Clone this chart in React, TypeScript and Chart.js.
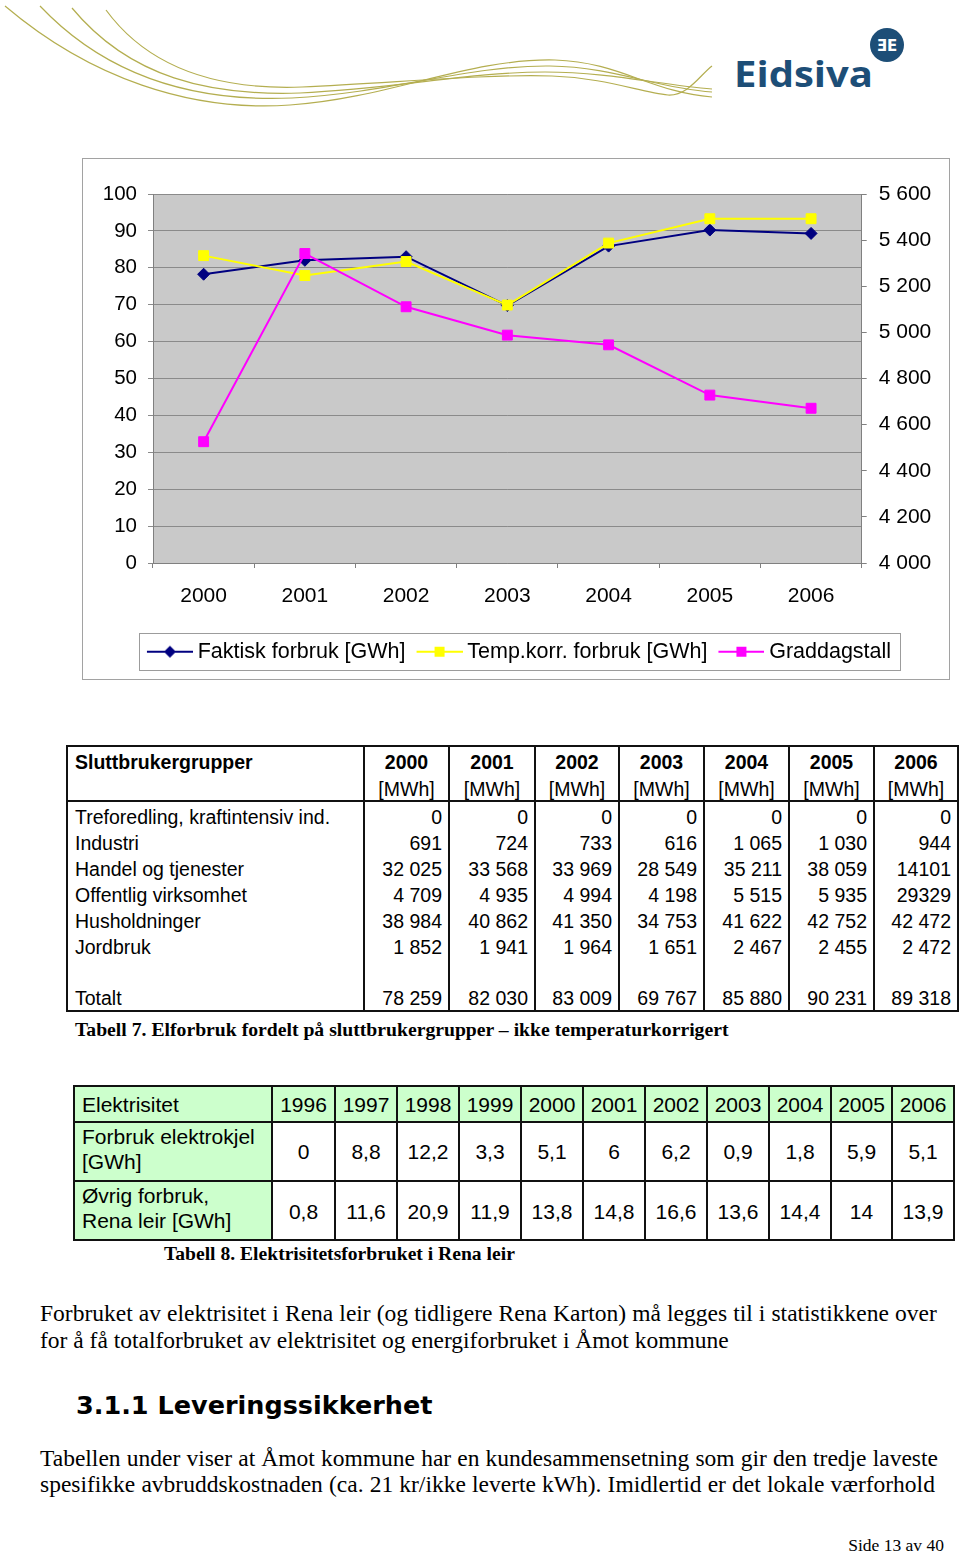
import React, { useEffect, useRef } from 'react';
import { Chart, registerables } from 'chart.js';

Chart.register(...registerables);

// ---------------- Chart data ----------------
const years = ['2000', '2001', '2002', '2003', '2004', '2005', '2006'];
const faktiskForbruk = [78.259, 82.03, 83.009, 69.767, 85.88, 90.231, 89.318];
const tempKorrForbruk = [83.3, 77.9, 81.7, 69.9, 86.7, 93.3, 93.3];
const graddagstall = [4526, 5342, 5111, 4988, 4946, 4728, 4671];
const seriesNames = ['Faktisk forbruk [GWh]', 'Temp.korr. forbruk [GWh]', 'Graddagstall'];
const leftAxisRange = [0, 100, 10];
const rightAxisRange = [4000, 5600, 200];

// ---------------- Table 7 ----------------
const t7Title = 'Sluttbrukergrupper';
const t7Years = ['2000', '2001', '2002', '2003', '2004', '2005', '2006'];
const t7Unit = '[MWh]';
const t7Groups = ['Treforedling, kraftintensiv ind.', 'Industri', 'Handel og tjenester', 'Offentlig virksomhet', 'Husholdninger', 'Jordbruk'];
const t7Col2000 = ['0', '691', '32 025', '4 709', '38 984', '1 852'];
const t7Col2001 = ['0', '724', '33 568', '4 935', '40 862', '1 941'];
const t7Col2002 = ['0', '733', '33 969', '4 994', '41 350', '1 964'];
const t7Col2003 = ['0', '616', '28 549', '4 198', '34 753', '1 651'];
const t7Col2004 = ['0', '1 065', '35 211', '5 515', '41 622', '2 467'];
const t7Col2005 = ['0', '1 030', '38 059', '5 935', '42 752', '2 455'];
const t7Col2006 = ['0', '944', '14101', '29329', '42 472', '2 472'];
const t7TotalLabel = 'Totalt';
const t7Totals = ['78 259', '82 030', '83 009', '69 767', '85 880', '90 231', '89 318'];
const t7Caption = 'Tabell 7. Elforbruk fordelt på sluttbrukergrupper – ikke temperaturkorrigert';

// ---------------- Table 8 ----------------
const t8Header = 'Elektrisitet';
const t8Years = ['1996', '1997', '1998', '1999', '2000', '2001', '2002', '2003', '2004', '2005', '2006'];
const t8Row1Label = ['Forbruk elektrokjel', '[GWh]'];
const t8Row2Label = ['Øvrig forbruk,', 'Rena leir [GWh]'];
const t8Elektrokjel = ['0', '8,8', '12,2', '3,3', '5,1', '6', '6,2', '0,9', '1,8', '5,9', '5,1'];
const t8Ovrig = ['0,8', '11,6', '20,9', '11,9', '13,8', '14,8', '16,6', '13,6', '14,4', '14', '13,9'];
const t8Caption = 'Tabell 8. Elektrisitetsforbruket i Rena leir';

// ---------------- Body text ----------------
const para1 = [
  'Forbruket av elektrisitet i Rena leir (og tidligere Rena Karton) må legges til i statistikkene over',
  'for å få totalforbruket av elektrisitet og energiforbruket i Åmot kommune',
];
const heading = '3.1.1 Leveringssikkerhet';
const para2 = [
  'Tabellen under viser at Åmot kommune har en kundesammensetning som gir den tredje laveste',
  'spesifikke avbruddskostnaden (ca. 21 kr/ikke leverte kWh). Imidlertid er det lokale værforhold',
];
const footer = 'Side 13 av 40';
const logoText = 'Eidsiva';

const sans = '"Liberation Sans", Arial, Helvetica, sans-serif';
const serif = '"Liberation Serif", "Times New Roman", serif';
const LINE = '#111';

function fmtThousands(v: number): string {
  const th = Math.floor(v / 1000);
  const rest = Math.round(v % 1000);
  return th > 0 ? th + ' ' + String(rest).padStart(3, '0') : String(rest);
}

type TxtProps = {
  x: number; y: number; size: number; children: React.ReactNode;
  font?: string; bold?: boolean; align?: 'left' | 'right' | 'center'; color?: string;
};
function Txt({ x, y, size, children, font = sans, bold = false, align = 'left', color = '#000' }: TxtProps) {
  const lh = Math.round(size * 1.3);
  const style: React.CSSProperties = {
    position: 'absolute', top: y - lh / 2, fontFamily: font, fontSize: size, lineHeight: lh + 'px',
    fontWeight: bold ? 700 : 400, color, whiteSpace: 'pre',
  };
  if (align === 'left') style.left = x;
  else if (align === 'right') style.right = 960 - x;
  else { style.left = x - 300; style.width = 600; style.textAlign = 'center'; }
  return <div style={style}>{children}</div>;
}

function JLine({ x, y, w, text, size }: { x: number; y: number; w: number; text: string; size: number }) {
  const lh = Math.round(size * 1.3);
  return (
    <div style={{
      position: 'absolute', left: x, top: y - lh / 2, width: w, height: lh, display: 'flex',
      justifyContent: 'space-between', fontFamily: serif, fontSize: size, lineHeight: lh + 'px', whiteSpace: 'nowrap',
    }}>
      {text.split(' ').map((wd, i) => <span key={i}>{wd}</span>)}
    </div>
  );
}

function HLine({ x1, x2, y, w = 2 }: { x1: number; x2: number; y: number; w?: number }) {
  return <div style={{ position: 'absolute', left: x1 - w / 2, top: y - w / 2, width: x2 - x1 + w, height: w, background: LINE }} />;
}
function VLine({ x, y1, y2, w = 2 }: { x: number; y1: number; y2: number; w?: number }) {
  return <div style={{ position: 'absolute', left: x - w / 2, top: y1 - w / 2, width: w, height: y2 - y1 + w, background: LINE }} />;
}

function legendImage(color: string, shape: 'diamond' | 'square'): HTMLCanvasElement {
  const c = document.createElement('canvas');
  c.width = 58; c.height = 16;
  const g = c.getContext('2d')!;
  g.strokeStyle = color; g.lineWidth = 2;
  g.beginPath(); g.moveTo(12, 8); g.lineTo(58, 8); g.stroke();
  g.fillStyle = color;
  if (shape === 'diamond') {
    g.beginPath(); g.moveTo(35, 2); g.lineTo(41, 8); g.lineTo(35, 14); g.lineTo(29, 8); g.closePath(); g.fill();
  } else {
    g.fillRect(30, 3, 10, 10);
  }
  return c;
}

function ChartBlock() {
  const ref = useRef<HTMLCanvasElement>(null);
  useEffect(() => {
    const canvas = ref.current;
    if (!canvas) return;
    const imgs = [legendImage('#000080', 'diamond'), legendImage('#ffff00', 'square'), legendImage('#ff00ff', 'square')];
    const plotBg = {
      id: 'plotBg',
      beforeDraw(chart: any) {
        const { ctx, chartArea: a } = chart;
        ctx.save();
        ctx.fillStyle = '#c9c9c9';
        ctx.fillRect(a.left, a.top, a.right - a.left, a.bottom - a.top);
        ctx.restore();
      },
    };
    const legendBox = {
      id: 'legendBox',
      afterDraw(chart: any) {
        const hb = chart.legend && chart.legend.legendHitBoxes;
        if (!hb || !hb.length) return;
        const first = hb[0];
        const last = hb[hb.length - 1];
        const cy = first.top + first.height / 2;
        const l = Math.round(first.left - 2) + 0.5;
        const r = Math.round(last.left + last.width + 9) + 0.5;
        const t = Math.round(cy - 19) + 0.5;
        const b = Math.round(cy + 18) + 0.5;
        const ctx = chart.ctx;
        ctx.save();
        ctx.strokeStyle = '#9c9c9c';
        ctx.lineWidth = 1;
        ctx.strokeRect(l, t, r - l, b - t);
        ctx.restore();
      },
    };
    const tickFont = (size: number) => ({ family: sans, size });
    const chart = new Chart(canvas, {
      type: 'line',
      data: {
        labels: years,
        datasets: [
          {
            label: seriesNames[0], data: faktiskForbruk, yAxisID: 'y', borderColor: '#000080', backgroundColor: '#000080',
            borderWidth: 2, pointStyle: 'rectRot', pointRadius: 6, pointBorderWidth: 1, pointBorderColor: '#000080',
            pointBackgroundColor: '#000080', tension: 0, order: 3,
          },
          {
            label: seriesNames[1], data: tempKorrForbruk, yAxisID: 'y', borderColor: '#ffff00', backgroundColor: '#ffff00',
            borderWidth: 2, pointStyle: 'rect', pointRadius: 7, pointBorderWidth: 1, pointBorderColor: '#ffff00',
            pointBackgroundColor: '#ffff00', tension: 0, order: 2,
          },
          {
            label: seriesNames[2], data: graddagstall, yAxisID: 'y1', borderColor: '#ff00ff', backgroundColor: '#ff00ff',
            borderWidth: 2, pointStyle: 'rect', pointRadius: 7, pointBorderWidth: 1, pointBorderColor: '#ff00ff',
            pointBackgroundColor: '#ff00ff', tension: 0, order: 1,
          },
        ],
      },
      options: {
        responsive: false,
        animation: false,
        devicePixelRatio: 1,
        layout: { padding: { left: 0, right: 0, top: 35, bottom: 6.5 } },
        scales: {
          x: {
            type: 'category', offset: true,
            grid: { display: true, drawOnChartArea: false, drawTicks: true, tickLength: 5, color: '#808080', offset: true },
            border: { display: true, color: '#808080', width: 1 },
            ticks: { color: '#000', font: tickFont(21), padding: 16, maxRotation: 0, autoSkip: false },
            afterFit: (s: any) => { s.height = 73; },
          },
          y: {
            position: 'left', min: leftAxisRange[0], max: leftAxisRange[1],
            ticks: { stepSize: leftAxisRange[2], color: '#000', font: tickFont(20.5), padding: 11 },
            grid: { color: '#8a8a8a', tickLength: 5, drawTicks: true },
            border: { display: true, color: '#808080', width: 1 },
            afterFit: (s: any) => { s.width = 70; },
          },
          y1: {
            position: 'right', min: rightAxisRange[0], max: rightAxisRange[1],
            ticks: { stepSize: rightAxisRange[2], color: '#000', font: tickFont(21), padding: 12, callback: (v: any) => fmtThousands(Number(v)) },
            grid: { drawOnChartArea: false, tickLength: 5, drawTicks: true, color: '#808080' },
            border: { display: true, color: '#808080', width: 1 },
            afterFit: (s: any) => { s.width = 87.3; },
          },
        },
        plugins: {
          legend: {
            position: 'bottom',
            labels: {
              usePointStyle: true, pointStyleWidth: 46, padding: 5, color: '#000',
              font: { family: sans, size: 21.5 },
              sort: (a: any, b: any) => a.datasetIndex - b.datasetIndex,
              generateLabels: (ch: any) => {
                const items = (Chart.defaults.plugins.legend.labels as any).generateLabels(ch);
                items.forEach((it: any) => { it.pointStyle = imgs[it.datasetIndex]; });
                return items;
              },
            },
          },
          tooltip: { enabled: false },
        },
      } as any,
      plugins: [plotBg, legendBox],
    });
    return () => { chart.destroy(); };
  }, []);
  return (
    <>
      <canvas ref={ref} width={866} height={520} style={{ position: 'absolute', left: 83, top: 159, width: 866, height: 520 }} />
      <div style={{ position: 'absolute', left: 82, top: 158, width: 868, height: 522, border: '1px solid #a2a2a2', boxSizing: 'border-box' }} />
    </>
  );
}

function Table7() {
  const left = 67, top = 746, headerH = 55;
  const rowHs = [29, 26, 26, 26, 26, 26, 25, 26];
  const colW = [297, 85, 86, 84, 85, 85, 85, 84];
  const xs = [left];
  colW.forEach((w) => xs.push(xs[xs.length - 1] + w));
  const rowTops = [top + headerH];
  rowHs.forEach((h) => rowTops.push(rowTops[rowTops.length - 1] + h));
  const bottom = rowTops[rowTops.length - 1];
  const cols = [t7Col2000, t7Col2001, t7Col2002, t7Col2003, t7Col2004, t7Col2005, t7Col2006];
  const labels = [...t7Groups, '', t7TotalLabel];
  const size = 19.5;
  const els: React.ReactNode[] = [];
  els.push(<Txt key="h0" x={xs[0] + 8} y={762} size={size} bold>{t7Title}</Txt>);
  t7Years.forEach((yr, i) => {
    const cx = (xs[i + 1] + xs[i + 2]) / 2;
    els.push(<Txt key={'hy' + i} x={cx} y={762} size={size} bold align="center">{yr}</Txt>);
    els.push(<Txt key={'hu' + i} x={cx} y={789} size={size} align="center">{t7Unit}</Txt>);
  });
  labels.forEach((lab, r) => {
    const cy = rowTops[r] + rowHs[r] - 13;
    if (lab) els.push(<Txt key={'l' + r} x={xs[0] + 8} y={cy} size={size}>{lab}</Txt>);
    cols.forEach((col, c) => {
      let v = '';
      if (r < t7Groups.length) v = col[r];
      else if (r === labels.length - 1) v = t7Totals[c];
      if (v) els.push(<Txt key={'v' + r + '_' + c} x={xs[c + 2] - 7} y={cy} size={size} align="right">{v}</Txt>);
    });
  });
  return (
    <>
      {els}
      <HLine x1={xs[0]} x2={xs[xs.length - 1]} y={top} />
      <HLine x1={xs[0]} x2={xs[xs.length - 1]} y={top + headerH} />
      <HLine x1={xs[0]} x2={xs[xs.length - 1]} y={bottom} />
      {xs.map((x, i) => <VLine key={'vl' + i} x={x} y1={top} y2={bottom} />)}
      <Txt x={75} y={1029} size={19.7} font={serif} bold>{t7Caption}</Txt>
    </>
  );
}

function Table8() {
  const left = 74;
  const ys = [1086, 1122, 1181, 1240];
  const colW = [198, 63, 62, 62, 62, 62, 62, 62, 62, 62, 61, 62];
  const xs = [left];
  colW.forEach((w) => xs.push(xs[xs.length - 1] + w));
  const right = xs[xs.length - 1];
  const size = 21;
  const green = '#ccffcc';
  const els: React.ReactNode[] = [];
  els.push(<div key="g1" style={{ position: 'absolute', left: xs[0], top: ys[0], width: right - xs[0], height: ys[1] - ys[0], background: green }} />);
  els.push(<div key="g2" style={{ position: 'absolute', left: xs[0], top: ys[1], width: xs[1] - xs[0], height: ys[3] - ys[1], background: green }} />);
  els.push(<Txt key="h" x={xs[0] + 8} y={1104} size={size}>{t8Header}</Txt>);
  t8Years.forEach((yr, i) => {
    const cx = (xs[i + 1] + xs[i + 2]) / 2;
    els.push(<Txt key={'y' + i} x={cx} y={1104} size={size} align="center">{yr}</Txt>);
    els.push(<Txt key={'a' + i} x={cx} y={1151} size={size} align="center">{t8Elektrokjel[i]}</Txt>);
    els.push(<Txt key={'b' + i} x={cx} y={1211} size={size} align="center">{t8Ovrig[i]}</Txt>);
  });
  els.push(<Txt key="r1a" x={xs[0] + 8} y={1136} size={size}>{t8Row1Label[0]}</Txt>);
  els.push(<Txt key="r1b" x={xs[0] + 8} y={1161} size={size}>{t8Row1Label[1]}</Txt>);
  els.push(<Txt key="r2a" x={xs[0] + 8} y={1195} size={size}>{t8Row2Label[0]}</Txt>);
  els.push(<Txt key="r2b" x={xs[0] + 8} y={1220} size={size}>{t8Row2Label[1]}</Txt>);
  return (
    <>
      {els}
      {ys.map((y, i) => <HLine key={'h' + i} x1={xs[0]} x2={right} y={y} />)}
      {xs.map((x, i) => <VLine key={'v' + i} x={x} y1={ys[0]} y2={ys[3]} />)}
      <Txt x={164} y={1253} size={19.6} font={serif} bold>{t8Caption}</Txt>
    </>
  );
}

function Logo() {
  return (
    <svg style={{ position: 'absolute', left: 0, top: 0 }} width={960} height={130}>
      <g fill="none" stroke="#b4ae50" strokeWidth={1.2}>
        <path d="M5,6 C90,78 190,112 290,105 C390,98 470,58 555,60 C620,62 650,92 712,97" />
        <path d="M40,6 C110,80 200,102 292,98 C390,93 470,65 550,66 C615,67 655,88 712,92" />
        <path d="M72,8 C130,78 210,96 300,93 C395,89 470,72 545,72 C610,72 660,85 712,89" />
        <path d="M106,10 C150,70 220,90 302,87 C395,83 480,74 552,76 C605,78 640,92 668,95 C688,96 700,75 712,66" />
      </g>
      <circle cx={887} cy={45} r={17} fill="#1d4e77" />
      <text x={887} y={51} textAnchor="middle" fill="#fff" fontFamily="DejaVu Sans" fontWeight="bold" fontSize={15}>ƎE</text>
      <text x={734} y={87} fill="#1d4e77" fontFamily='"Open Sans", Lato, sans-serif' fontWeight="bold" fontSize={35}
        textLength={139} lengthAdjust="spacingAndGlyphs">{logoText}</text>
    </svg>
  );
}

export default function App() {
  return (
    <div style={{ position: 'absolute', left: 0, top: 0, width: 960, height: 1552, background: '#fff', overflow: 'hidden' }}>
      <Logo />
      <ChartBlock />
      <Table7 />
      <Table8 />
      <JLine x={40} y={1313} w={897} text={para1[0]} size={23.5} />
      <Txt x={40} y={1340} size={23.5} font={serif}>{para1[1]}</Txt>
      <Txt x={76} y={1405} size={25.5} font='"DejaVu Sans", Verdana, sans-serif' bold>{heading}</Txt>
      <JLine x={40} y={1458} w={898} text={para2[0]} size={23.5} />
      <JLine x={40} y={1484} w={895} text={para2[1]} size={23.5} />
      <Txt x={944} y={1545} size={17.5} font={serif} align="right">{footer}</Txt>
    </div>
  );
}
